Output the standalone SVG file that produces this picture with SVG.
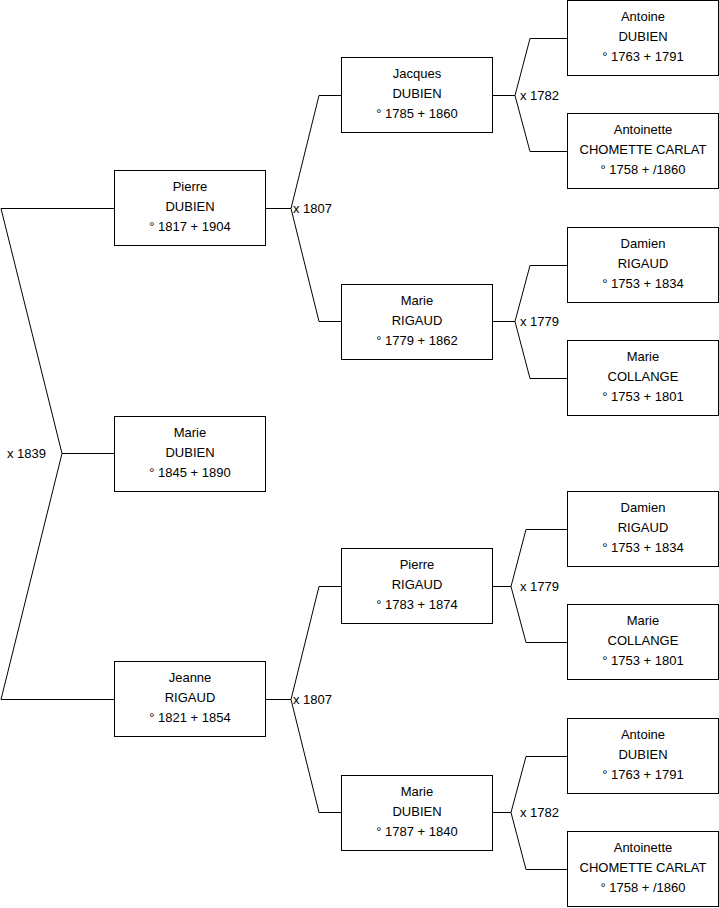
<svg xmlns="http://www.w3.org/2000/svg" width="719" height="908" viewBox="0 0 719 908">
<style>
.box{fill:#fff;stroke:#000;stroke-width:1}
.t{font-family:"Liberation Sans",Arial,sans-serif;font-size:13px;fill:#000;text-anchor:middle}
.l{font-family:"Liberation Sans",Arial,sans-serif;font-size:13px;fill:#000}
.c{fill:none;stroke:#000;stroke-width:1}
</style>
<rect width="719" height="908" fill="#fff"/>
<g id="connectors">
<polyline class="c" points="114,208.5 1,208.5 62,453.5 1,699.5 114,699.5"/>
<line class="c" x1="62" y1="453.5" x2="114" y2="453.5"/>
<text class="l" x="7" y="457.5">x 1839</text>
<polyline class="c" points="341,95.5 319,95.5 291,208.5 319,321.5 341,321.5"/>
<line class="c" x1="265" y1="208.5" x2="291" y2="208.5"/>
<text class="l" x="293" y="212.5">x 1807</text>
<polyline class="c" points="341,586.5 319,586.5 291,699.5 319,812.5 341,812.5"/>
<line class="c" x1="265" y1="699.5" x2="291" y2="699.5"/>
<text class="l" x="293" y="703.5">x 1807</text>
<polyline class="c" points="567,38.5 530,38.5 515,95.5 530,151.5 567,151.5"/>
<line class="c" x1="492" y1="95.5" x2="515" y2="95.5"/>
<text class="l" x="520" y="99.5">x 1782</text>
<polyline class="c" points="567,265.5 530,265.5 515,321.5 530,378.5 567,378.5"/>
<line class="c" x1="492" y1="321.5" x2="515" y2="321.5"/>
<text class="l" x="520" y="325.5">x 1779</text>
<polyline class="c" points="567,529.5 526,529.5 511,586.5 526,642.5 567,642.5"/>
<line class="c" x1="492" y1="586.5" x2="511" y2="586.5"/>
<text class="l" x="520" y="590.5">x 1779</text>
<polyline class="c" points="567,756.5 526,756.5 511,812.5 526,869.5 567,869.5"/>
<line class="c" x1="492" y1="812.5" x2="511" y2="812.5"/>
<text class="l" x="520" y="816.5">x 1782</text>
</g>
<g id="n-pierre-dubien">
<rect class="box" x="114.5" y="170.5" width="151" height="75"/>
<text class="t" x="190" y="191">Pierre</text>
<text class="t" x="190" y="211">DUBIEN</text>
<text class="t" x="190" y="231">° 1817 + 1904</text>
</g>
<g id="n-marie-dubien-1845">
<rect class="box" x="114.5" y="416.5" width="151" height="75"/>
<text class="t" x="190" y="437">Marie</text>
<text class="t" x="190" y="457">DUBIEN</text>
<text class="t" x="190" y="477">° 1845 + 1890</text>
</g>
<g id="n-jeanne-rigaud">
<rect class="box" x="114.5" y="661.5" width="151" height="75"/>
<text class="t" x="190" y="682">Jeanne</text>
<text class="t" x="190" y="702">RIGAUD</text>
<text class="t" x="190" y="722">° 1821 + 1854</text>
</g>
<g id="n-jacques-dubien">
<rect class="box" x="341.5" y="57.5" width="151" height="75"/>
<text class="t" x="417" y="78">Jacques</text>
<text class="t" x="417" y="98">DUBIEN</text>
<text class="t" x="417" y="118">° 1785 + 1860</text>
</g>
<g id="n-marie-rigaud">
<rect class="box" x="341.5" y="284.5" width="151" height="75"/>
<text class="t" x="417" y="305">Marie</text>
<text class="t" x="417" y="325">RIGAUD</text>
<text class="t" x="417" y="345">° 1779 + 1862</text>
</g>
<g id="n-pierre-rigaud">
<rect class="box" x="341.5" y="548.5" width="151" height="75"/>
<text class="t" x="417" y="569">Pierre</text>
<text class="t" x="417" y="589">RIGAUD</text>
<text class="t" x="417" y="609">° 1783 + 1874</text>
</g>
<g id="n-marie-dubien-1787">
<rect class="box" x="341.5" y="775.5" width="151" height="75"/>
<text class="t" x="417" y="796">Marie</text>
<text class="t" x="417" y="816">DUBIEN</text>
<text class="t" x="417" y="836">° 1787 + 1840</text>
</g>
<g id="n-antoine-dubien-1">
<rect class="box" x="567.5" y="0.5" width="151" height="75"/>
<text class="t" x="643" y="21">Antoine</text>
<text class="t" x="643" y="41">DUBIEN</text>
<text class="t" x="643" y="61">° 1763 + 1791</text>
</g>
<g id="n-antoinette-chomette-1">
<rect class="box" x="567.5" y="113.5" width="151" height="75"/>
<text class="t" x="643" y="134">Antoinette</text>
<text class="t" x="643" y="154">CHOMETTE CARLAT</text>
<text class="t" x="643" y="174">° 1758 + /1860</text>
</g>
<g id="n-damien-rigaud-1">
<rect class="box" x="567.5" y="227.5" width="151" height="75"/>
<text class="t" x="643" y="248">Damien</text>
<text class="t" x="643" y="268">RIGAUD</text>
<text class="t" x="643" y="288">° 1753 + 1834</text>
</g>
<g id="n-marie-collange-1">
<rect class="box" x="567.5" y="340.5" width="151" height="75"/>
<text class="t" x="643" y="361">Marie</text>
<text class="t" x="643" y="381">COLLANGE</text>
<text class="t" x="643" y="401">° 1753 + 1801</text>
</g>
<g id="n-damien-rigaud-2">
<rect class="box" x="567.5" y="491.5" width="151" height="75"/>
<text class="t" x="643" y="512">Damien</text>
<text class="t" x="643" y="532">RIGAUD</text>
<text class="t" x="643" y="552">° 1753 + 1834</text>
</g>
<g id="n-marie-collange-2">
<rect class="box" x="567.5" y="604.5" width="151" height="75"/>
<text class="t" x="643" y="625">Marie</text>
<text class="t" x="643" y="645">COLLANGE</text>
<text class="t" x="643" y="665">° 1753 + 1801</text>
</g>
<g id="n-antoine-dubien-2">
<rect class="box" x="567.5" y="718.5" width="151" height="75"/>
<text class="t" x="643" y="739">Antoine</text>
<text class="t" x="643" y="759">DUBIEN</text>
<text class="t" x="643" y="779">° 1763 + 1791</text>
</g>
<g id="n-antoinette-chomette-2">
<rect class="box" x="567.5" y="831.5" width="151" height="75"/>
<text class="t" x="643" y="852">Antoinette</text>
<text class="t" x="643" y="872">CHOMETTE CARLAT</text>
<text class="t" x="643" y="892">° 1758 + /1860</text>
</g>
</svg>
